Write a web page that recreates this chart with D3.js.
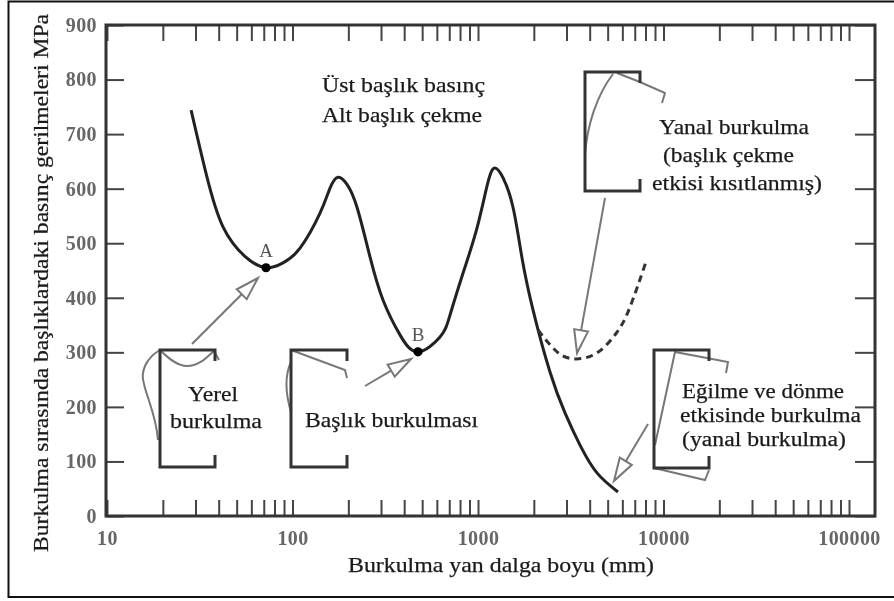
<!DOCTYPE html>
<html>
<head>
<meta charset="utf-8">
<script src="https://d3js.org/d3.v7.min.js"></script>
<style>
  html, body { margin: 0; background: #fff; }
  svg { filter: blur(0.55px); }
  text { font-family: "Liberation Serif", serif; }
</style>
</head>
<body>
<script>
// values
var mainX = [28.4, 34.6, 42.2, 55.4, 72, 88.9, 109.8, 140.7, 159.3, 176, 196.7, 222.7, 261.7, 307.5, 379.7, 474.8, 624, 706, 830, 988, 1132, 1235, 1364, 1544, 1727, 1979, 2444, 2944, 3548, 4380, 5683];
var mainY = [744, 621, 530, 476, 455, 464, 491, 555, 601, 621, 608, 566, 475, 396, 332, 301, 328, 368, 445, 528, 612, 638, 620, 566, 473, 378, 264, 189, 130, 79, 44];
var dashX = [2107, 2667, 3334, 4380, 5614, 6599, 8050];
var dashY = [341, 301, 288, 299, 337, 383, 466];
var pointNames = ["A", "B"];
var pointX = [72, 474.8];
var pointY = [455, 301];
var yTicks = [0, 100, 200, 300, 400, 500, 600, 700, 800, 900];
var xDecades = [10, 100, 1000, 10000, 100000];
var xMinor = [2, 3, 4, 5, 6, 7, 8, 9];

var width = 894, height = 601;
var x = d3.scaleLog().domain([10, 100000]).range([107, 849]);
var y = d3.scaleLinear().domain([0, 900]).range([516, 25]);
var plotRight = 875;

var xTicks = d3.merge(xDecades.map(function(d) {
  return d == 100000 ? [d] : [d].concat(xMinor.map(function(m) { return d * m; }));
}));

var svg = d3.select("body").append("svg")
  .attr("width", width).attr("height", height)
  .style("display", "block");

var root = svg.append("g");

// outer picture frame, runs off the right edge
root.append("rect").attr("x", 8.5).attr("y", 1.5).attr("width", 900).attr("height", 595.5)
  .attr("fill", "none").attr("stroke", "#111").attr("stroke-width", 2);

// axes, ticks point inwards
function styleAxis(g) {
  g.select(".domain").remove();
  g.selectAll(".tick line").attr("stroke", "#444").attr("stroke-width", 2);
  g.selectAll(".tick text")
    .attr("font-size", 20).attr("fill", "#666").attr("font-weight", "bold")
    .style("font-family", '"Liberation Serif", serif').style("letter-spacing", "0.4px");
}
var decadeLabel = function(d) { return xDecades.indexOf(d) >= 0 ? d3.format("d")(d) : ""; };

root.append("g").attr("transform", "translate(0,516)")
  .call(d3.axisBottom(x).tickValues(xTicks).tickFormat(decadeLabel).tickSizeOuter(0).tickSizeInner(-16).tickPadding(15))
  .call(styleAxis);
root.append("g").attr("transform", "translate(0,25)")
  .call(d3.axisTop(x).tickValues(xTicks).tickFormat("").tickSizeOuter(0).tickSizeInner(-16))
  .call(styleAxis);
root.append("g").attr("transform", "translate(106,0)")
  .call(d3.axisLeft(y).tickValues(yTicks).tickSizeOuter(0).tickSizeInner(-18).tickPadding(9))
  .call(styleAxis);
root.append("g").attr("transform", "translate(" + plotRight + ",0)")
  .call(d3.axisRight(y).tickValues(yTicks).tickFormat("").tickSizeOuter(0).tickSizeInner(-20))
  .call(styleAxis);

root.append("rect").attr("x", 106).attr("y", 25).attr("width", plotRight - 106).attr("height", 491)
  .attr("fill", "none").attr("stroke", "#333").attr("stroke-width", 3);

// curves
var line = d3.line()
  .x(function(d) { return x(d[0]); })
  .y(function(d) { return y(d[1]); })
  .curve(d3.curveNatural);

root.append("path").attr("d", line(d3.zip(mainX, mainY)))
  .attr("fill", "none").attr("stroke", "#222").attr("stroke-width", 3);
root.append("path").attr("d", line(d3.zip(dashX, dashY)))
  .attr("fill", "none").attr("stroke", "#333").attr("stroke-width", 3).attr("stroke-dasharray", "7 5");

root.selectAll("circle.pt").data(pointNames).enter().append("circle")
  .attr("class", "pt")
  .attr("cx", function(d, i) { return x(pointX[i]); })
  .attr("cy", function(d, i) { return y(pointY[i]); })
  .attr("r", 4.6).attr("fill", "#000");
root.selectAll("text.pt").data(pointNames).enter().append("text")
  .attr("class", "pt")
  .attr("x", function(d, i) { return x(pointX[i]); })
  .attr("y", function(d, i) { return y(pointY[i]) - 11; })
  .attr("text-anchor", "middle").attr("font-size", 19).attr("fill", "#555")
  .text(function(d) { return d; });

// section sketches: each C outline plus its buckled shape in grey
var sketches = [
  { c: [160, 350, 55, 117], grey: ["M160,350C146,358 140,372 144,384C147,398 156,415 158,440", "M160,350C170,360 178,366 187,366C200,366 208,356 214,351L219,360"] },
  { c: [291, 350, 56, 117], grey: ["M291,350L345,370L347,378", "M291,362C285,375 285,392 291,412"] },
  { c: [585, 72, 55, 119], grey: ["M585,155C587,125 597,95 613,74", "M617,73L640,82L665,93L662,103"] },
  { c: [654, 350, 55, 118], grey: ["M655,445L675,352L728,362L726,373", "M654,468L705,480L709,470"] }
];
sketches.forEach(function(s) {
  var x0 = s.c[0], y0 = s.c[1], w = s.c[2], h = s.c[3];
  s.grey.forEach(function(p) {
    root.append("path").attr("d", p).attr("fill", "none").attr("stroke", "#777").attr("stroke-width", 2);
  });
  root.append("path")
    .attr("d", d3.line()([[x0 + w, y0 + 11], [x0 + w, y0], [x0, y0], [x0, y0 + h], [x0 + w, y0 + h], [x0 + w, y0 + h - 12]]))
    .attr("fill", "none").attr("stroke", "#333").attr("stroke-width", 3);
});

// arrows with open heads
var arrows = [[192, 344, 258, 278], [365, 386, 411, 359], [605, 198, 577, 353], [648, 424, 614, 481]];
arrows.forEach(function(a) {
  var ang = Math.atan2(a[3] - a[1], a[2] - a[0]);
  var len = 23, half = 7;
  var bx = a[2] - len * Math.cos(ang), by = a[3] - len * Math.sin(ang);
  var nx = -Math.sin(ang) * half, ny = Math.cos(ang) * half;
  root.append("line").attr("x1", a[0]).attr("y1", a[1]).attr("x2", bx).attr("y2", by)
    .attr("stroke", "#777").attr("stroke-width", 2);
  root.append("path")
    .attr("d", d3.line()([[a[2], a[3]], [bx + nx, by + ny], [bx - nx, by - ny]]) + "Z")
    .attr("fill", "#fff").attr("stroke", "#777").attr("stroke-width", 2);
});

// captions: text, left edge, baseline, drawn width (the source lettering is wide), font size
var captions = [
  ["Üst başlık basınç", 322, 92, 163, 22],
  ["Alt başlık çekme", 322, 122, 160, 22],
  ["Yanal burkulma", 659, 134, 150, 22],
  ["(başlık çekme", 663, 162, 131, 22],
  ["etkisi kısıtlanmış)", 652, 190, 170, 22],
  ["Yerel", 188, 401, 50, 22],
  ["burkulma", 170, 428, 92, 22],
  ["Başlık burkulması", 305, 427, 173, 22],
  ["Eğilme ve dönme", 682, 398, 162, 20.5],
  ["etkisinde burkulma", 680, 422, 181, 20.5],
  ["(yanal burkulma)", 682, 446, 164, 20.5],
  ["Burkulma yan dalga boyu (mm)", 348, 572, 306, 22]
];
root.selectAll("text.cap").data(captions).enter().append("text")
  .attr("class", "cap")
  .attr("x", function(d) { return d[1]; })
  .attr("y", function(d) { return d[2]; })
  .attr("textLength", function(d) { return d[3]; })
  .attr("lengthAdjust", "spacingAndGlyphs")
  .attr("font-size", function(d) { return d[4]; }).attr("fill", "#1a1a1a")
  .attr("stroke", "#1a1a1a").attr("stroke-width", 0.25)
  .text(function(d) { return d[0]; });

root.append("text")
  .attr("transform", "translate(48,552) rotate(-90)")
  .attr("textLength", 538).attr("lengthAdjust", "spacingAndGlyphs")
  .attr("font-size", 21).attr("fill", "#1a1a1a")
  .attr("stroke", "#1a1a1a").attr("stroke-width", 0.25)
  .text("Burkulma sırasında başlıklardaki basınç gerilmeleri MPa");
</script>
</body>
</html>
